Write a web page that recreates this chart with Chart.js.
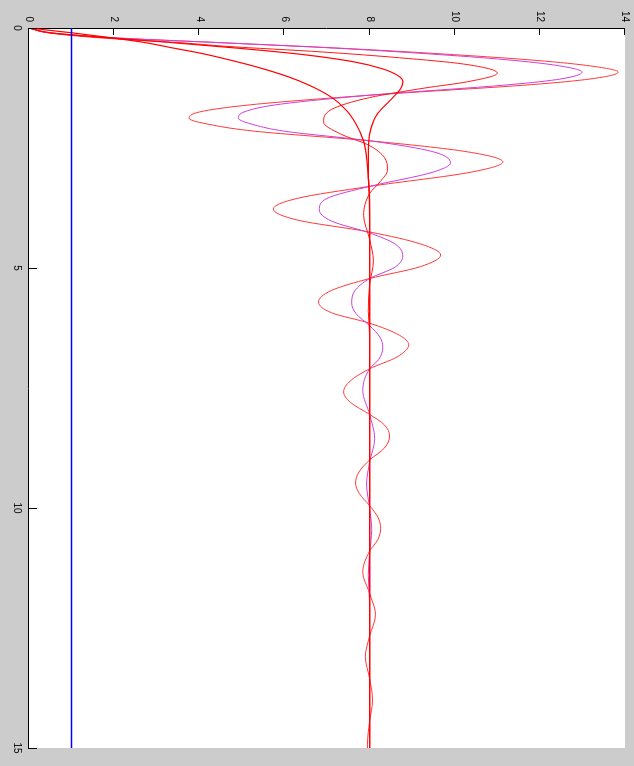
<!DOCTYPE html>
<html lang="en">
<head>
  <meta charset="UTF-8">
  <title>Step responses</title>
  <style>
    body {
      margin: 0;
      padding: 0;
      background-color: #cccccc;
      overflow: hidden;
    }
    .plot {
      position: absolute;
      left: 0;
      top: 0;
      width: 766px;
      height: 634px;
      transform-origin: 0 0;
      transform: translate(634px, 0) rotate(90deg);
    }
  </style>
  <script src="https://cdn.jsdelivr.net/npm/chart.js"></script>
</head>
<body>
  <div class="plot">
    <canvas id="stepChart" width="766" height="634"></canvas>
  </div>

  <script>
    // axis ticks
    const timeTicks = [0, 5, 10, 15];
    const ampTicks = [0, 2, 4, 6, 8, 10, 12, 14];

    // input step
    const timeStep = [0, 15];
    const ampStep = [1, 1];

    // largest overshoot (red)
    const timeA = [0, 0.1, 0.2, 0.31, 0.42, 0.54, 0.66, 0.78, 0.92, 1.06, 1.18, 1.4, 1.6, 1.75, 1.88, 2.02, 2.15, 2.35, 2.58, 2.79, 3.0, 3.3, 3.55, 3.77, 4.0, 4.25, 4.5, 4.73, 4.97, 5.22, 5.47, 5.71, 5.93, 6.15, 6.4, 6.6, 6.85, 7.1, 7.35, 7.58, 7.8, 8.05, 8.27, 8.5, 8.75, 9.0, 9.25, 9.48, 9.7, 9.95, 10.2, 10.42, 10.65, 10.9, 11.33, 11.78, 12.22, 12.67, 13.1, 13.55, 14.0, 14.45, 14.92, 15];
    const ampA = [0, 0.5, 1.9, 4.6, 7.3, 9.7, 11.7, 13.1, 13.84, 13.2, 11.8, 8.0, 5.2, 4.0, 3.76, 4.3, 5.3, 8.0, 10.3, 11.13, 10.4, 8.0, 6.3, 5.74, 6.3, 8.0, 9.2, 9.67, 9.2, 8.0, 7.1, 6.8, 7.1, 8.0, 8.7, 8.92, 8.65, 8.0, 7.55, 7.39, 7.55, 8.0, 8.35, 8.47, 8.35, 8.0, 7.75, 7.67, 7.76, 8.0, 8.2, 8.26, 8.2, 8.0, 7.84, 8.0, 8.14, 8.0, 7.9, 8.0, 8.07, 8.0, 7.95, 7.95];

    // magenta
    const timeB = [0, 0.1, 0.2, 0.31, 0.42, 0.54, 0.66, 0.78, 0.92, 1.06, 1.18, 1.4, 1.6, 1.75, 1.88, 2.02, 2.15, 2.35, 2.58, 2.81, 3.0, 3.3, 3.55, 3.79, 4.02, 4.27, 4.5, 4.75, 4.98, 5.22, 5.48, 5.73, 5.95, 6.2, 6.45, 6.65, 6.9, 7.1, 7.55, 8.05, 8.55, 9.05, 9.5, 10.0, 10.45, 10.95, 11.4, 12.0, 15];
    const ampB = [0, 0.5, 1.9, 4.6, 7.2, 9.4, 11.2, 12.4, 12.99, 12.5, 11.3, 8.0, 5.8, 5.05, 4.92, 5.3, 6.0, 8.0, 9.5, 9.9, 9.5, 8.0, 7.0, 6.82, 7.1, 8.0, 8.6, 8.78, 8.6, 8.0, 7.65, 7.58, 7.68, 8.0, 8.25, 8.31, 8.22, 8.0, 7.84, 8.0, 8.12, 8.0, 7.93, 8.0, 8.05, 8.0, 7.97, 8.0, 8.0];

    // medium overshoot (red)
    const timeC = [0, 0.1, 0.2, 0.31, 0.38, 0.5, 0.62, 0.75, 0.94, 1.12, 1.25, 1.45, 1.7, 1.96, 2.2, 2.45, 2.7, 2.96, 3.2, 3.45, 3.9, 4.4, 4.85, 5.35, 5.9, 6.4, 15];
    const ampC = [0, 0.45, 1.6, 3.6, 4.6, 6.9, 8.7, 10.2, 11.0, 10.3, 9.3, 8.0, 7.1, 6.92, 7.3, 8.0, 8.35, 8.42, 8.25, 8.0, 7.86, 8.0, 8.09, 8.0, 7.97, 8.0, 8.0];

    // small overshoot (red)
    const timeD = [0, 0.1, 0.2, 0.3, 0.42, 0.55, 0.7, 0.85, 1.0, 1.12, 1.25, 1.44, 1.77, 2.1, 2.4, 3.0, 3.6, 15];
    const ampD = [0, 0.5, 1.8, 3.3, 4.9, 6.4, 7.6, 8.3, 8.68, 8.78, 8.74, 8.56, 8.2, 8.03, 7.98, 7.97, 8.0, 8.0];

    // no overshoot (red)
    const timeE = [0, 0.1, 0.2, 0.3, 0.42, 0.52, 0.62, 0.8, 1.02, 1.2, 1.44, 1.71, 2.0, 2.33, 2.7, 3.2, 4.0, 15];
    const ampE = [0, 1.0, 1.9, 2.7, 3.4, 4.0, 4.5, 5.3, 6.1, 6.6, 7.1, 7.45, 7.68, 7.85, 7.93, 7.98, 8.0, 8.0];

    function toPoints(t, v) {
      return t.map((x, i) => ({ x: x, y: v[i] }));
    }

    function series(t, v, color, width) {
      return {
        data: toPoints(t, v),
        borderColor: color,
        borderWidth: width,
        pointRadius: 0,
        fill: false,
        cubicInterpolationMode: 'monotone'
      };
    }

    // white plot area plus inward tick marks
    const plotFrame = {
      id: 'plotFrame',
      beforeDraw(chart) {
        const a = chart.chartArea;
        const ctx = chart.ctx;
        ctx.save();
        ctx.fillStyle = '#ffffff';
        ctx.fillRect(a.left, a.top, a.right - a.left, a.bottom - a.top);
        ctx.restore();
      },
      afterDraw(chart) {
        const a = chart.chartArea;
        const ctx = chart.ctx;
        const xs = chart.scales.x;
        const ys = chart.scales.y;
        ctx.save();
        ctx.strokeStyle = '#000000';
        ctx.lineWidth = 1;
        ctx.beginPath();
        timeTicks.forEach(v => {
          const px = Math.round(xs.getPixelForValue(v)) + 0.5;
          ctx.moveTo(px, a.bottom);
          ctx.lineTo(px, a.bottom - 8);
        });
        ampTicks.forEach(v => {
          const py = Math.round(ys.getPixelForValue(v)) + 0.5;
          ctx.moveTo(a.left, py);
          ctx.lineTo(a.left + 7, py);
        });
        ctx.stroke();
        ctx.restore();
      }
    };

    const ctx = document.getElementById('stepChart').getContext('2d');
    const stepChart = new Chart(ctx, {
      type: 'line',
      data: {
        datasets: [
          series(timeStep, ampStep, '#0000ff', 1.5),
          series(timeE, ampE, '#ff0000', 1.2),
          series(timeD, ampD, '#ff0000', 1.2),
          series(timeC, ampC, '#ff1a1a', 1),
          series(timeB, ampB, '#cc40dd', 1),
          series(timeA, ampA, '#ff3a3a', 1)
        ]
      },
      options: {
        responsive: false,
        animation: false,
        events: [],
        layout: { padding: { top: 9, right: 18, left: 0, bottom: 0 } },
        plugins: { legend: { display: false }, tooltip: { enabled: false } },
        scales: {
          x: {
            type: 'linear',
            position: 'bottom',
            min: 0,
            max: 15,
            afterBuildTicks: s => { s.ticks = timeTicks.map(v => ({ value: v })); },
            afterFit: s => { s.height = 29; s.paddingLeft = 0; s.paddingRight = 0; },
            grid: { display: false, drawTicks: false },
            border: { display: true, color: '#000000', width: 1 },
            ticks: {
              color: '#000000',
              font: { family: 'Liberation Sans', size: 10 },
              maxRotation: 0,
              padding: 6
            }
          },
          y: {
            type: 'linear',
            min: 0,
            max: 14,
            afterBuildTicks: s => { s.ticks = ampTicks.map(v => ({ value: v })); },
            afterFit: s => { s.width = 28; s.paddingTop = 0; s.paddingBottom = 0; },
            grid: { display: false, drawTicks: false },
            border: { display: true, color: '#000000', width: 1 },
            ticks: {
              color: '#000000',
              font: { family: 'Liberation Sans', size: 10 },
              padding: 6
            }
          }
        }
      },
      plugins: [plotFrame]
    });
  </script>
</body>
</html>
